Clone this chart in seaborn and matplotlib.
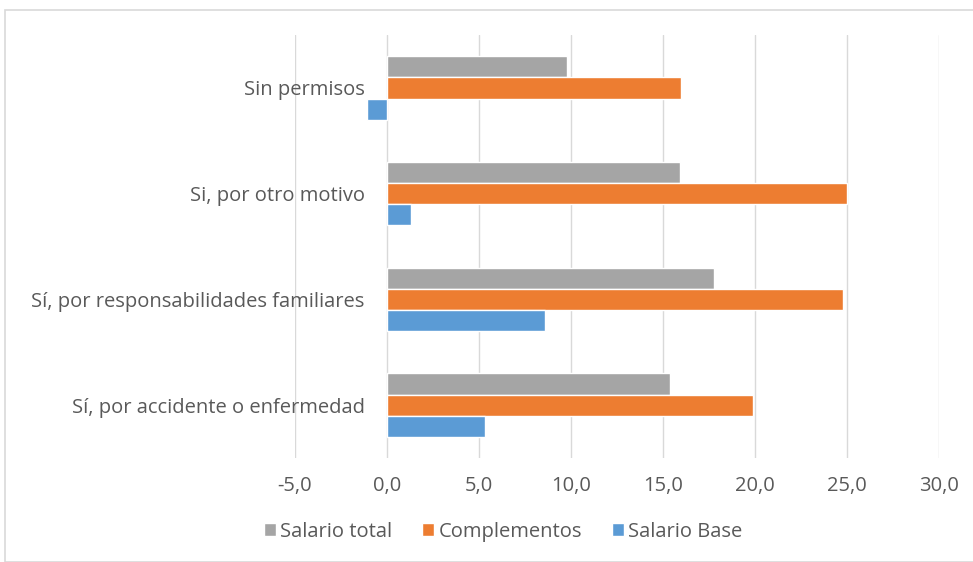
import pandas as pd
import matplotlib
matplotlib.use('Agg')
import matplotlib.pyplot as plt
import seaborn as sns
from matplotlib.ticker import FuncFormatter, MultipleLocator
from matplotlib.patches import Rectangle

categorias = ['Sin permisos', 'Si, por otro motivo',
              'Sí, por responsabilidades familiares', 'Sí, por accidente o enfermedad']
salario_total = [9.8, 15.9, 17.8, 15.4]
complementos = [16.0, 25.0, 24.8, 19.9]
salario_base = [-1.1, 1.3, 8.6, 5.3]
series = ['Salario total', 'Complementos', 'Salario Base']
cores = ['#A5A5A5', '#ED7D31', '#5B9BD5']

df = pd.DataFrame({'categoria': categorias * 3,
                   'serie': [s for s in series for _ in categorias],
                   'valor': salario_total + complementos + salario_base})

sns.set_theme(style='white')
plt.rcParams['font.family'] = ['Open Sans', 'DejaVu Sans']

fig = plt.figure(figsize=(9.73, 5.62), dpi=100)
ax = fig.add_axes([0.3032, 0.185, 0.6618, 0.7525])

sns.barplot(data=df, x='valor', y='categoria', hue='serie', order=categorias,
            hue_order=series, palette=cores, width=0.6, orient='h',
            saturation=1, ax=ax)

ax.set_xlim(-5, 30)
ax.xaxis.set_major_locator(MultipleLocator(5))
ax.xaxis.set_major_formatter(FuncFormatter(lambda v, p: f'{v:.1f}'.replace('.', ',')))
ax.grid(axis='x', color='#D9D9D9', linewidth=1)
ax.set_axisbelow(True)
for s in ['top', 'right', 'bottom']:
    ax.spines[s].set_visible(False)
ax.spines['left'].set_position(('data', 0))
ax.spines['left'].set_visible(False)
ax.tick_params(axis='both', length=0, colors='#595959', labelsize=14.5)
ax.tick_params(axis='x', pad=13)
ax.tick_params(axis='y', pad=16)
ax.set_xlabel('')
ax.set_ylabel('')

ax.legend(loc='center', bbox_to_anchor=(0.517, 0.054), bbox_transform=fig.transFigure,
          ncol=3, frameon=False, fontsize=14.5, handlelength=0.6, handleheight=0.6,
          handletextpad=0.2, columnspacing=1.5, labelcolor='#595959')

fig.patches.append(Rectangle((5 / 973, 0), 1.0, 1 - 10 / 562, transform=fig.transFigure,
                             fill=False, edgecolor='#D9D9D9', linewidth=1.2))

plt.savefig('out.png', dpi=100)
